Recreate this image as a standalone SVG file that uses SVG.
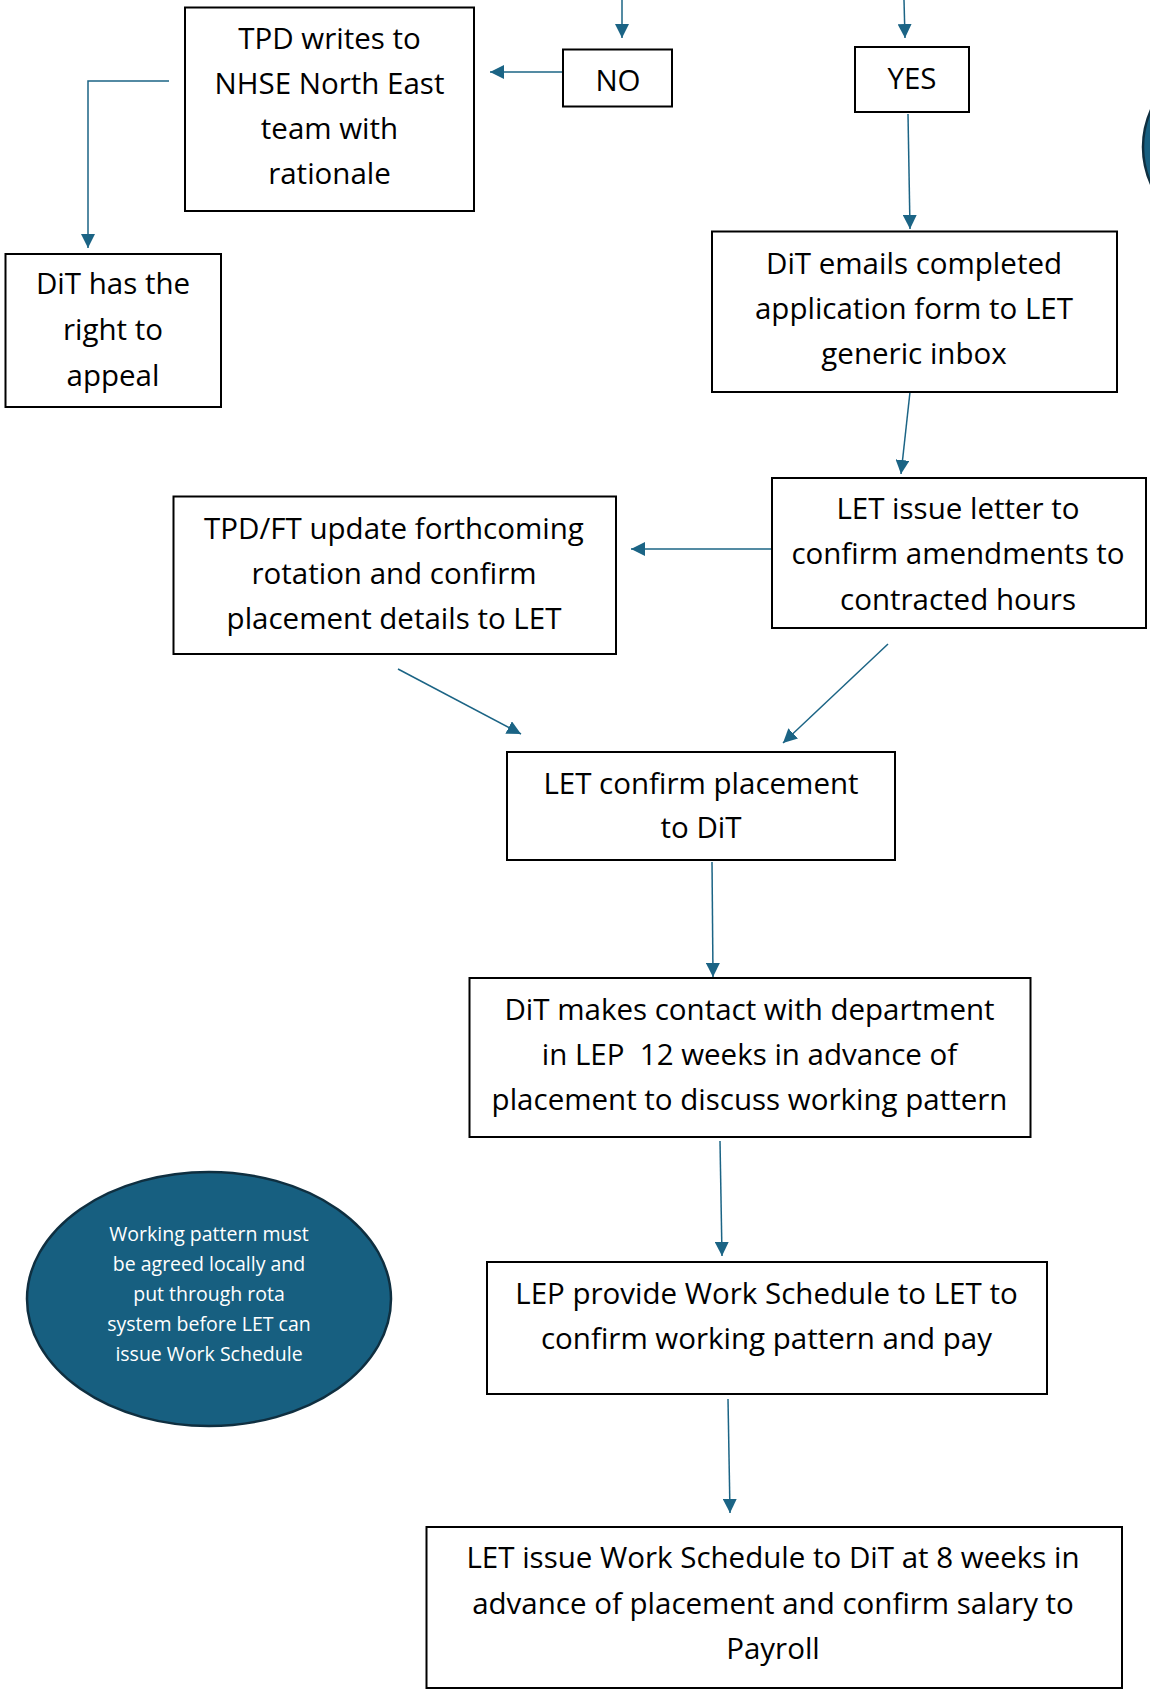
<svg xmlns="http://www.w3.org/2000/svg" width="1150" height="1689" viewBox="0 0 1150 1689">
<style>
.box{fill:#fff;stroke:#000;stroke-width:2}
.t{font-family:"Open Sans","Liberation Sans",sans-serif;font-size:29.5px;fill:#000;text-anchor:middle;white-space:pre}
.et{font-family:"Open Sans","Liberation Sans",sans-serif;font-size:19.5px;fill:#fff;text-anchor:middle}
.c{fill:none;stroke:#1b6485;stroke-width:1.5}
</style>
<defs>
<marker id="ah" viewBox="0 0 10 10" refX="10" refY="5" markerWidth="14" markerHeight="14" markerUnits="userSpaceOnUse" orient="auto"><path d="M0,0 L10,5 L0,10 z" fill="#1b6485"/></marker>
</defs>
<rect width="1150" height="1689" fill="#fff"/>
<g id="connectors">
<path class="c" d="M622,0 L622,38" marker-end="url(#ah)"/>
<path class="c" d="M904,0 L905,38" marker-end="url(#ah)"/>
<path class="c" d="M566,72 L490,72" marker-end="url(#ah)"/>
<path class="c" d="M169,81 L88,81 L88,248" marker-end="url(#ah)"/>
<path class="c" d="M908,114 L910,229" marker-end="url(#ah)"/>
<path class="c" d="M910,392 L901,474" marker-end="url(#ah)"/>
<path class="c" d="M771,549 L631,549" marker-end="url(#ah)"/>
<path class="c" d="M398,669 L521,734" marker-end="url(#ah)"/>
<path class="c" d="M888,644 L783,743" marker-end="url(#ah)"/>
<path class="c" d="M712,862 L713,977" marker-end="url(#ah)"/>
<path class="c" d="M720,1141 L722,1256" marker-end="url(#ah)"/>
<path class="c" d="M728,1399 L730,1513" marker-end="url(#ah)"/>
</g>
<g id="no"><rect class="box" x="563" y="49.5" width="109" height="57"/><text class="t" x="618" y="90.5">NO</text></g>
<g id="yes"><rect class="box" x="855" y="47" width="114" height="65"/><text class="t" x="912" y="88.5">YES</text></g>
<g id="tpd-writes"><rect class="box" x="185" y="7.5" width="289" height="203.5"/>
<text class="t" x="329.5" y="48.5">TPD writes to</text><text class="t" x="329.5" y="93.5">NHSE North East</text><text class="t" x="329.5" y="138.5">team with</text><text class="t" x="329.5" y="183.5">rationale</text></g>
<g id="appeal"><rect class="box" x="5.5" y="254" width="215.5" height="153"/>
<text class="t" x="113" y="293.5">DiT has the</text><text class="t" x="113" y="339.5">right to</text><text class="t" x="113" y="385.5">appeal</text></g>
<g id="dit-emails"><rect class="box" x="712" y="231.5" width="405" height="160.5"/>
<text class="t" x="914" y="273.5">DiT emails completed</text><text class="t" x="914" y="318.5">application form to LET</text><text class="t" x="914" y="363.5">generic inbox</text></g>
<g id="let-letter"><rect class="box" x="772" y="478" width="374" height="150"/>
<text class="t" x="958" y="518.5">LET issue letter to</text><text class="t" x="958" y="563.5">confirm amendments to</text><text class="t" x="958" y="609.5">contracted hours</text></g>
<g id="tpd-ft"><rect class="box" x="173.5" y="496.5" width="442.5" height="157.5"/>
<text class="t" x="394" y="538.5">TPD/FT update forthcoming</text><text class="t" x="394" y="583.5">rotation and confirm</text><text class="t" x="394" y="628.5">placement details to LET</text></g>
<g id="let-confirm"><rect class="box" x="507" y="752" width="388" height="108"/>
<text class="t" x="701" y="793.5">LET confirm placement</text><text class="t" x="701" y="837.5">to DiT</text></g>
<g id="dit-contact"><rect class="box" x="469.5" y="978" width="561" height="159"/>
<text class="t" x="749.5" y="1019.5">DiT makes contact with department</text><text class="t" x="749.5" y="1064.5">in LEP  12 weeks in advance of</text><text class="t" x="749.5" y="1109.5">placement to discuss working pattern</text></g>
<g id="lep-provide"><rect class="box" x="487" y="1262" width="560" height="132"/>
<text class="t" x="766.5" y="1303.5">LEP provide Work Schedule to LET to</text><text class="t" x="766.5" y="1348.5">confirm working pattern and pay</text></g>
<g id="let-ws"><rect class="box" x="426.5" y="1527" width="695.5" height="161"/>
<text class="t" x="773" y="1567.5">LET issue Work Schedule to DiT at 8 weeks in</text><text class="t" x="773" y="1613.5">advance of placement and confirm salary to</text><text class="t" x="773" y="1658.5">Payroll</text></g>
<g id="note"><ellipse cx="209" cy="1299" rx="182" ry="127" fill="#175f80" stroke="#0f2f40" stroke-width="2.5"/>
<text class="et" x="209" y="1241">Working pattern must</text><text class="et" x="209" y="1271">be agreed locally and</text><text class="et" x="209" y="1301">put through rota</text><text class="et" x="209" y="1331">system before LET can</text><text class="et" x="209" y="1361">issue Work Schedule</text></g>
<g id="offscreen-ellipse"><ellipse cx="1325" cy="147" rx="182" ry="127" fill="#175f80" stroke="#0f2f40" stroke-width="2.5"/></g>
</svg>
